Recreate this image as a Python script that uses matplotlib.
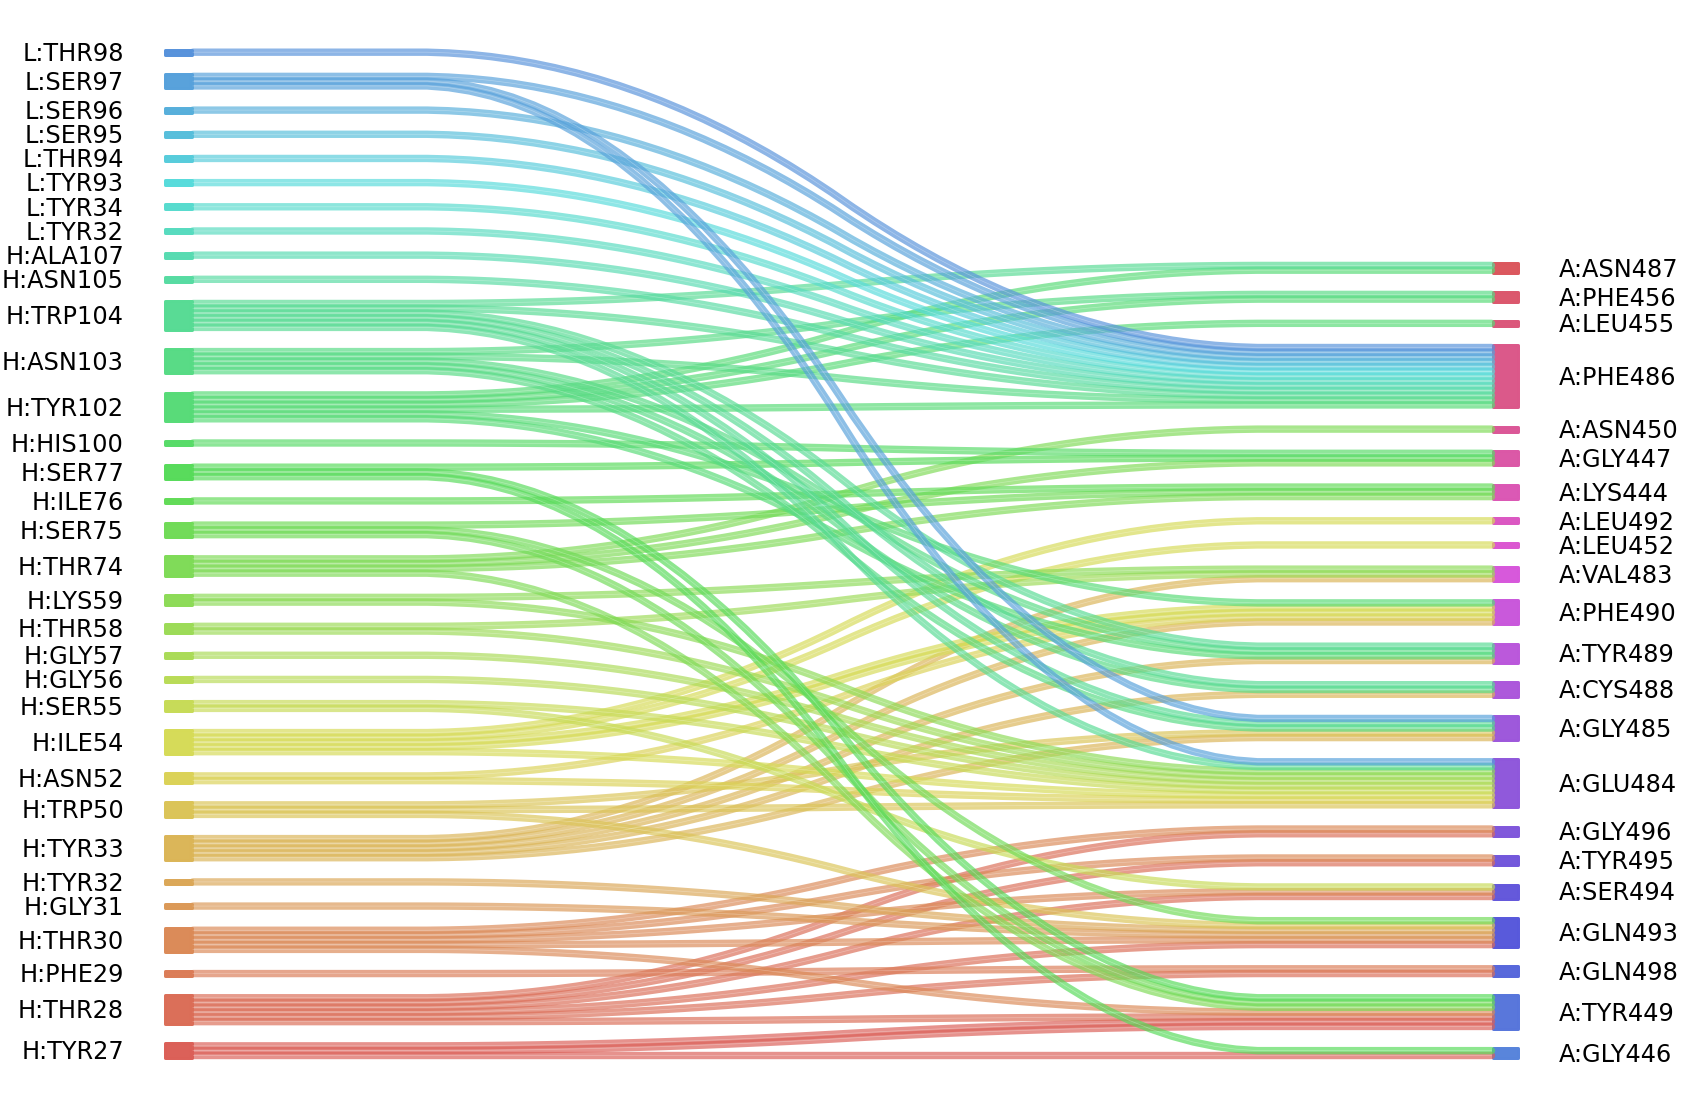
import numpy as np
import matplotlib
matplotlib.use("Agg")
import matplotlib.pyplot as plt
from matplotlib.patches import Rectangle
import colorsys

# ---------------- data ----------------
left_labels = ["H:TYR27", "H:THR28", "H:PHE29", "H:THR30", "H:GLY31", "H:TYR32",
               "H:TYR33", "H:TRP50", "H:ASN52", "H:ILE54", "H:SER55", "H:GLY56",
               "H:GLY57", "H:THR58", "H:LYS59", "H:THR74", "H:SER75", "H:ILE76",
               "H:SER77", "H:HIS100", "H:TYR102", "H:ASN103", "H:TRP104", "H:ASN105",
               "H:ALA107", "L:TYR32", "L:TYR34", "L:TYR93", "L:THR94", "L:SER95",
               "L:SER96", "L:SER97", "L:THR98"]
right_labels = ["A:GLY446", "A:TYR449", "A:GLN498", "A:GLN493", "A:SER494", "A:TYR495",
                "A:GLY496", "A:GLU484", "A:GLY485", "A:CYS488", "A:TYR489", "A:PHE490",
                "A:VAL483", "A:LEU452", "A:LEU492", "A:LYS444", "A:GLY447", "A:ASN450",
                "A:PHE486", "A:LEU455", "A:PHE456", "A:ASN487"]

link_src = ["H:TYR27", "H:TYR27",
            "H:THR28", "H:THR28", "H:THR28", "H:THR28", "H:THR28", "H:THR28",
            "H:PHE29",
            "H:THR30", "H:THR30", "H:THR30", "H:THR30", "H:THR30",
            "H:GLY31", "H:TYR32",
            "H:TYR33", "H:TYR33", "H:TYR33", "H:TYR33", "H:TYR33",
            "H:TRP50", "H:TRP50", "H:TRP50",
            "H:ASN52", "H:ASN52",
            "H:ILE54", "H:ILE54", "H:ILE54", "H:ILE54",
            "H:SER55", "H:SER55",
            "H:GLY56", "H:GLY57",
            "H:THR58", "H:THR58",
            "H:LYS59", "H:LYS59",
            "H:THR74", "H:THR74", "H:THR74", "H:THR74",
            "H:SER75", "H:SER75", "H:SER75",
            "H:ILE76",
            "H:SER77", "H:SER77", "H:SER77",
            "H:HIS100",
            "H:TYR102", "H:TYR102", "H:TYR102", "H:TYR102", "H:TYR102", "H:TYR102",
            "H:ASN103", "H:ASN103", "H:ASN103", "H:ASN103", "H:ASN103",
            "H:TRP104", "H:TRP104", "H:TRP104", "H:TRP104", "H:TRP104", "H:TRP104",
            "H:ASN105", "H:ALA107", "L:TYR32", "L:TYR34", "L:TYR93", "L:THR94",
            "L:SER95", "L:SER96",
            "L:SER97", "L:SER97", "L:SER97",
            "L:THR98"]
link_dst = ["A:GLY446", "A:TYR449",
            "A:TYR449", "A:GLN498", "A:GLN493", "A:SER494", "A:TYR495", "A:GLY496",
            "A:GLN498",
            "A:TYR449", "A:GLN493", "A:SER494", "A:TYR495", "A:GLY496",
            "A:GLN493", "A:GLN493",
            "A:GLY485", "A:CYS488", "A:TYR489", "A:PHE490", "A:VAL483",
            "A:GLN493", "A:GLU484", "A:GLY485",
            "A:GLU484", "A:PHE490",
            "A:GLU484", "A:PHE490", "A:LEU452", "A:LEU492",
            "A:SER494", "A:GLU484",
            "A:GLU484", "A:GLU484",
            "A:GLU484", "A:VAL483",
            "A:GLU484", "A:VAL483",
            "A:TYR449", "A:LYS444", "A:GLY447", "A:ASN450",
            "A:TYR449", "A:GLN493", "A:LYS444",
            "A:LYS444",
            "A:GLY446", "A:TYR449", "A:GLY447",
            "A:GLY447",
            "A:TYR489", "A:PHE490", "A:PHE486", "A:LEU455", "A:PHE456", "A:ASN487",
            "A:GLY485", "A:CYS488", "A:TYR489", "A:PHE486", "A:PHE456",
            "A:GLU484", "A:GLY485", "A:CYS488", "A:TYR489", "A:PHE486", "A:ASN487",
            "A:PHE486", "A:PHE486", "A:PHE486", "A:PHE486", "A:PHE486", "A:PHE486",
            "A:PHE486", "A:PHE486",
            "A:GLU484", "A:GLY485", "A:PHE486",
            "A:PHE486"]
link_w = [1, 2,
          1, 1, 1, 1, 1, 1,
          1,
          1, 1, 1, 1, 1,
          1, 1,
          1, 1, 1, 1, 1,
          1, 1, 1,
          1, 1,
          1, 2, 1, 1,
          1, 1,
          1, 1,
          1, 1,
          1, 1,
          1, 1, 1, 1,
          1, 1, 1,
          1,
          1, 1, 1,
          1,
          1, 1, 1, 1, 1, 1,
          1, 1, 1, 1, 1,
          1, 1, 1, 1, 1, 1,
          1, 1, 1, 1, 1, 1,
          1, 1,
          1, 1, 1,
          1]

# ---------------- layout ----------------
W_PX, H_PX, DPI = 1682, 1108, 100
fig = plt.figure(figsize=(W_PX / DPI, H_PX / DPI), dpi=DPI)
ax = fig.add_axes([0, 0, 1, 1])
ax.axis("off")

nL, nR = len(left_labels), len(right_labels)
li = {l: i for i, l in enumerate(left_labels)}
ri = {r: i for i, r in enumerate(right_labels)}

left_w = np.zeros(nL)
right_w = np.zeros(nR)
for s, d, w in zip(link_src, link_dst, link_w):
    left_w[li[s]] += w
    right_w[ri[d]] += w
total = left_w.sum()
gap = 0.05 * total

left_bot = np.concatenate([[0], np.cumsum(left_w + gap)[:-1]])
right_bot = np.concatenate([[0], np.cumsum(right_w + gap)[:-1]])
left_top_total = left_bot[-1] + left_w[-1]

# pixel anchors (y=0 -> bottom of stack, top of left stack -> top)
y0_px, ytop_px = 1057.8, 49.8
ppu = (y0_px - ytop_px) / left_top_total          # pixels per unit
ax.set_xlim(0, W_PX)
ax.set_ylim(-(H_PX - y0_px) / ppu, left_top_total + ytop_px / ppu)

# colours: hls palette over all labels
ncol = nL + nR
hues = (np.linspace(0, 1, ncol + 1)[:-1] + 0.01) % 1
palette = [colorsys.hls_to_rgb(h, 0.6, 0.65) for h in hues]
col_left = palette[:nL]
col_right = palette[nL:]

xl0, xl1 = 165.5, 192.5
xr0, xr1 = 1493.5, 1518.5
xs0, xs1 = 193.0, 1491.5
bar_lw = 3.0 * 72 / DPI
font = 17.3
cap_off = 0.729 * font * DPI / 72 / 2 / ppu

for i, lab in enumerate(left_labels):
    c = col_left[i]
    ax.add_patch(Rectangle((xl0, left_bot[i]), xl1 - xl0, left_w[i], facecolor=c,
                           edgecolor=c, lw=bar_lw, joinstyle="round", alpha=0.99, zorder=2))
    ax.text(124, left_bot[i] + left_w[i] / 2 - cap_off, lab, ha="right", va="baseline",
            fontsize=font, color="black")
for i, lab in enumerate(right_labels):
    c = col_right[i]
    ax.add_patch(Rectangle((xr0, right_bot[i]), xr1 - xr0, right_w[i], facecolor=c,
                           edgecolor=c, lw=bar_lw, joinstyle="round", alpha=0.99, zorder=2))
    ax.text(1559, right_bot[i] + right_w[i] / 2 - cap_off, lab, ha="left", va="baseline",
            fontsize=font, color="black")


def strip(yl, yr):
    ys = np.array(50 * [yl] + 50 * [yr])
    ys = np.convolve(ys, 0.05 * np.ones(20), mode="valid")
    ys = np.convolve(ys, 0.05 * np.ones(20), mode="valid")
    return np.linspace(xs0, xs1, len(ys)), ys


order = sorted(range(len(link_src)), key=lambda k: (li[link_src[k]], ri[link_dst[k]]))
lb = left_bot.copy()
rb = right_bot.copy()
line_lw = (ppu + 2.6) * 72 / DPI
for k in order:
    s, d, w = link_src[k], link_dst[k], link_w[k]
    for j in range(w):
        x, y = strip(lb[li[s]] + j + 0.5, rb[ri[d]] + j + 0.5)
        ax.plot(x, y, color=col_left[li[s]], lw=line_lw, alpha=0.68,
                solid_capstyle="round", solid_joinstyle="round", zorder=3)
        ax.plot(x, y, color="white", lw=0.5, alpha=0.3, zorder=3)
    lb[li[s]] += w
    rb[ri[d]] += w

fig.savefig("out.png", dpi=DPI)
